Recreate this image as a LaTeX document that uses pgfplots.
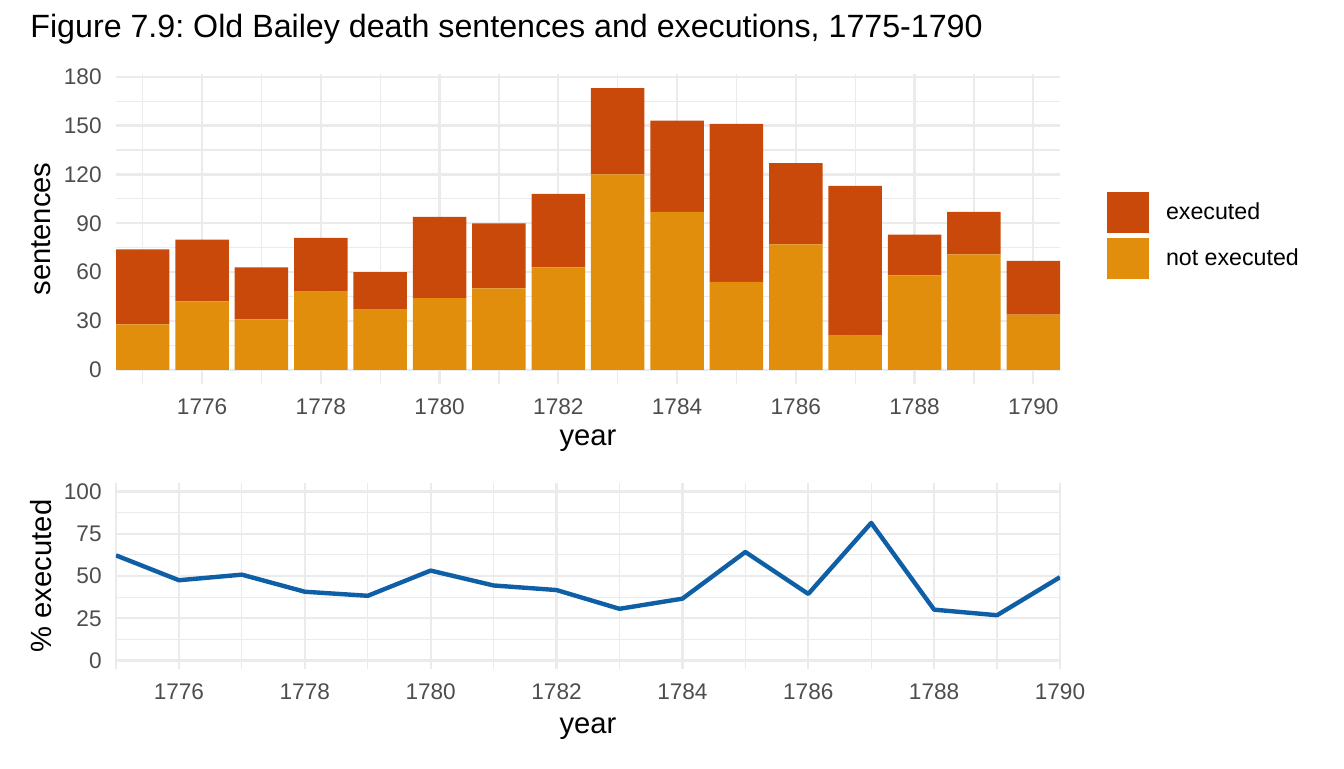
\documentclass[border=0pt]{standalone}
\usepackage{fontspec}
\setmainfont{Liberation Sans}
\usepackage{pgfplots}
\usepackage{pgfplotstable}
\pgfplotsset{compat=1.18}
\frenchspacing

\definecolor{execcol}{HTML}{C9490A}
\definecolor{notexeccol}{HTML}{E08E0B}
\definecolor{linecol}{HTML}{0F5FA6}
\definecolor{gridgray}{HTML}{EBEBEB}
\definecolor{tickgray}{HTML}{4D4D4D}

% Old Bailey death sentences by year: not executed / executed
\pgfplotstableread{
year ne  ex
1775 28  46
1776 42  38
1777 31  32
1778 48  33
1779 37  23
1780 44  50
1781 50  40
1782 63  45
1783 120 53
1784 97  56
1785 54  97
1786 77  50
1787 21  92
1788 58  25
1789 71  26
1790 34  33
}\sentences

% share of sentences carried out
\pgfplotstableread{
year pct
1775 62.2
1776 47.5
1777 50.8
1778 40.7
1779 38.3
1780 53.2
1781 44.4
1782 41.7
1783 30.6
1784 36.6
1785 64.2
1786 39.4
1787 81.4
1788 30.1
1789 26.8
1790 49.3
}\pctexec

\pgfplotsset{
  panel/.style={
    scale only axis,
    width=472pt,
    axis line style={draw=none},
    tick style={draw=none},
    major tick length=0pt,
    minor tick length=0pt,
    grid=both,
    major grid style={line width=1.1pt, color=gridgray},
    minor grid style={line width=0.6pt, color=gridgray},
    tick label style={font=\fontsize{11.3}{13}\selectfont, text=tickgray, inner sep=0pt},
    xticklabel style={anchor=north, yshift=-7pt},
    yticklabel style={anchor=east, xshift=-7pt},
    label style={font=\fontsize{14.6}{17}\selectfont},
    /pgf/number format/assume math mode=true,
    /pgf/number format/1000 sep={},
    xtick={1776,1778,...,1790},
    minor xtick={1775,1777,...,1789},
  }
}

\begin{document}
\begin{tikzpicture}
\useasboundingbox (0,0) rectangle (672pt,384pt);

\node[anchor=base west, inner sep=0pt, font=\fontsize{16.1}{19}\selectfont]
  at (15pt,365pt) {Figure 7.9: Old Bailey death sentences and executions, 1775-1790};

% stacked bars: sentences per year
\begin{axis}[
  panel,
  at={(58pt,192pt)}, anchor=south west,
  height=155pt,
  xmin=1774.55, xmax=1790.45,
  ymin=-8.65, ymax=181.65,
  ytick={0,30,...,180},
  minor ytick={15,45,...,165},
  ybar stacked,
  bar width=0.9,
  xlabel={year},
  ylabel={sentences},
  xlabel style={at={(axis description cs:0.5,-0.199)}, anchor=base},
  ylabel style={at={(axis description cs:-0.0692,0.5)}, anchor=base},
  reverse legend,
  legend cell align=left,
  legend image code/.code={\fill[#1] (0pt,-10.25pt) rectangle (21pt,10.25pt);},
  legend style={at={(axis description cs:1.0498,0.6194)}, anchor=north west,
    draw=none, fill=none, inner sep=0pt, outer sep=0pt, row sep=2.5pt,
    font=\fontsize{11.6}{13}\selectfont, nodes={inner sep=0pt},
    /tikz/every odd column/.append style={column sep=8.5pt}},
]
\addplot[fill=notexeccol, draw=none] table[x=year, y=ne] {\sentences};
\addplot[fill=execcol, draw=none] table[x=year, y=ex] {\sentences};
\legend{not executed, executed}
\end{axis}

% line: percentage executed
\begin{axis}[
  panel,
  at={(58pt,49.5pt)}, anchor=south west,
  height=93pt,
  xmin=1775, xmax=1790,
  ymin=-5, ymax=105,
  ytick={0,25,...,100},
  minor ytick={12.5,37.5,62.5,87.5},
  xlabel={year},
  ylabel={\% executed},
  xlabel style={at={(axis description cs:0.5,-0.3457)}, anchor=base},
  ylabel style={at={(axis description cs:-0.0681,0.5)}, anchor=base},
]
\addplot[color=linecol, line width=2.2pt, line join=round, mark=none] table[x=year, y=pct] {\pctexec};
\end{axis}
\end{tikzpicture}
\end{document}
